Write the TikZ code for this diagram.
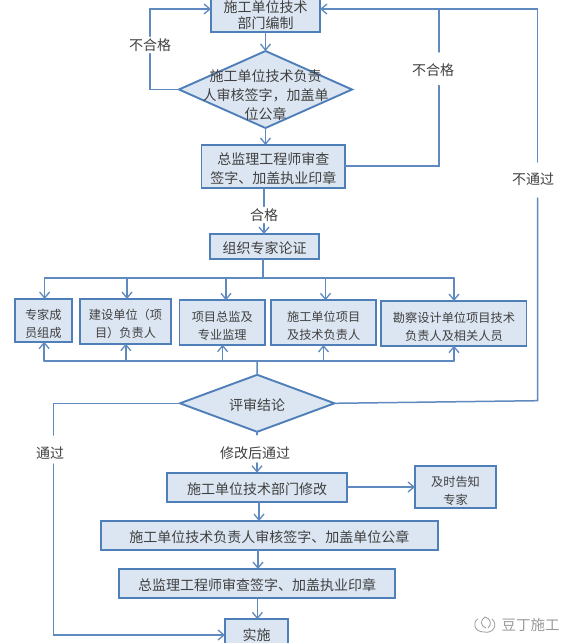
\documentclass[tikz,border=0pt]{standalone}
\usepackage{fontspec}
\setmainfont{Noto Sans CJK SC}
\usetikzlibrary{arrows.meta,shapes.geometric,calc}
\definecolor{bdr}{HTML}{4F7FB8}
\definecolor{fil}{HTML}{DCE6F2}
\definecolor{lin}{HTML}{5E8ABF}
\definecolor{txt}{HTML}{404040}
\definecolor{wm}{HTML}{9A9A9A}
\tikzset{
  boxA/.style={draw=bdr,fill=fil,line width=1.9pt,inner sep=0pt,outer sep=0pt,align=center,text=txt,font=\fontsize{14}{19}\selectfont},
  boxB/.style={boxA,font=\fontsize{12.2}{18}\selectfont},
  dia/.style={diamond,draw=bdr,fill=fil,line width=1.9pt,inner sep=0pt,outer sep=0pt},
  lab/.style={text=txt,inner sep=2pt,align=center,font=\fontsize{14}{19}\selectfont},
  conn/.style={draw=lin,line width=1.5pt,line cap=round},
  arr/.style={conn,-{Straight Barb[length=6pt,width=10pt,line width=1.3pt]}}
}
% name, x0, x1, y0, y1, style, text shift in y, text
\newcommand{\bx}[8]{%
  \node[#6,minimum width={(#3-#2)*1pt},minimum height={(#5-#4)*1pt}] (#1) at ({(#2+#3)/2},{(#4+#5)/2}) {};
  \node[#6,draw=none,fill=none] (#1t) at ({(#2+#3)/2},{(#4+#5)/2+#7}) {#8};}
\begin{document}
\begin{tikzpicture}[x=1pt,y=-1pt]
\useasboundingbox (0,0) rectangle (573,643);
\clip (0,0) rectangle (573,643);
% boxes
\bx{a}{211}{320}{-1}{31.7}{boxA,font=\fontsize{14}{16}\selectfont}{0}{施工单位技术\\部门编制}
\node[dia,minimum width=173pt,minimum height=77pt] (d1) at (265.5,89.5) {};
\node[lab] (d1t) at (265.5,95.5) {施工单位技术负责\\人审核签字，加盖单\\位公章};
\bx{b}{201.5}{345}{145}{188}{boxA}{2}{总监理工程师审查\\签字、加盖执业印章}
\bx{c}{210}{319}{234}{258.7}{boxA}{2}{组织专家论证}
\bx{e1}{14.6}{72}{299}{341.7}{boxB}{3.5}{专家成\\员组成}
\bx{e2}{80}{171}{299}{343.7}{boxB}{3}{建设单位（项\\目）负责人}
\bx{e3}{179.5}{265}{300.3}{344.7}{boxB}{3}{项目总监及\\专业监理}
\bx{e4}{271.3}{376}{300.3}{345}{boxB}{3}{施工单位项目\\及技术负责人}
\bx{e5}{381.4}{526.5}{301}{345.7}{boxB}{3}{勘察设计单位项目技术\\负责人及相关人员}
\node[dia,minimum width=154.5pt,minimum height=57pt] (d2) at (257.2,403.3) {};
\node[lab] (d2t) at (257,405.5) {评审结论};
\bx{f}{167}{347.3}{472.7}{501.7}{boxA}{2}{施工单位技术部门修改}
\bx{g}{415}{496}{465.7}{508.3}{boxB}{3.5}{及时告知\\专家}
\bx{h}{101}{437.7}{521}{550}{boxA}{2}{施工单位技术负责人审核签字、加盖单位公章}
\bx{i}{119}{395}{569}{598}{boxA}{2}{总监理工程师审查签字、加盖执业印章}
\bx{j}{225}{288}{619.3}{660}{boxA}{-4.6}{实施}
% labels
\node[lab] (l1) at (150,45) {不合格};
\node[lab] (l2) at (433,70) {不合格};
\node[lab] (l3) at (533,179) {不通过};
\node[lab] (l4) at (264,215) {合格};
\node[lab] (l5) at (50,453) {通过};
\node[lab] (l6) at (255,453) {修改后通过};
\node[font=\fontsize{14.5}{16}\selectfont,text=wm,inner sep=0pt] (wmt) at (530.5,625) {豆丁施工};
% coordinates
\coordinate (aR) at (320,9);
\coordinate (tL) at (150.5,9);
\coordinate (tM) at (439,9);
\coordinate (tR) at (537.5,9);
\coordinate (r1) at (439,85.6);
\coordinate (r2) at (439,52);
\coordinate (r3) at (537.5,162);
\coordinate (r4) at (537.5,198);
\coordinate (r5) at (537.5,400.7);
\coordinate (bus) at (263,278);
\coordinate (low) at (257,361);
\coordinate (dL) at (53.4,403.3);
\coordinate (dLa) at (53.4,435);
\coordinate (dLb) at (53.4,464);
\coordinate (jL) at (53.4,635);
\foreach \n/\x in {1/44.6,2/127,3/226,4/325.5,5/454}{\coordinate (u\n) at (\x,278);}
\foreach \n/\x in {1/44.2,2/125.8,3/222.6,4/323.5,5/454}{\coordinate (v\n) at (\x,361);}
% main flow
\draw[arr] (a.south) -- (d1.north);
\draw[arr] (d1.south) -- (d1.south |- b.north);
\draw[conn] (b.south -| l4) -- (l4.north);
\draw[arr] (l4.south) -- (l4 |- c.north);
% left loop
\draw[conn] (d1.west) -| (l1.south);
\draw[arr] (l1.north) |- (tL) -- (tL -| a.west);
% right loop
\draw[conn] (b.east |- 0,166) -| (r1);
\draw[conn] (r2) -- (tM);
% far right
\draw[conn] (d2.east) -- (r5) -- (r4);
\draw[arr] (r3) -- (tR) -- (aR);
% expert bus
\draw[conn] (c.south -| bus) -- (bus);
\draw[conn] (u1) -- (u5);
\draw[arr] (u1) -- (u1 |- e1.north);
\draw[arr] (u2) -- (u2 |- e2.north);
\draw[arr] (u3) -- (u3 |- e3.north);
\draw[arr] (u4) -- (u4 |- e4.north);
\draw[arr] (u5) -- (u5 |- e5.north);
\draw[conn] (d2.north) -- (low);
\draw[conn] (v1) -- (v5);
\draw[arr] (v1) -- (v1 |- e1.south);
\draw[arr] (v2) -- (v2 |- e2.south);
\draw[arr] (v3) -- (v3 |- e3.south);
\draw[arr] (v4) -- (v4 |- e4.south);
\draw[arr] (v5) -- (v5 |- e5.south);
% lower part
\draw[conn] (d2.west) -- (dL) -- (dLa);
\draw[arr] (dLb) -- (jL) -- (j.west |- jL);
\draw[conn] (d2.south) -- ++(0,3);
\draw[arr] (257,463) -- (257,472.7);
\draw[arr] (f.east |- 0,487) -- (g.west |- 0,487);
\draw[arr] (259,501.7) -- (259,521);
\draw[arr] (258,550) -- (258,569);
\draw[arr] (257.4,598) -- (257.4,619.3);
% watermark icon
\draw[wm,line width=0.8pt] (484,632) .. controls (474,632) and (472,622) .. (478,619);
\draw[wm,line width=0.8pt] (484,632) .. controls (494,634) and (498,624) .. (492,619);
\draw[wm,line width=0.8pt] (485,617) .. controls (480,620) and (480,626) .. (486,628);
\draw[wm,line width=0.8pt] (485,617) .. controls (491,618) and (492,625) .. (488,628);
\end{tikzpicture}
\end{document}
